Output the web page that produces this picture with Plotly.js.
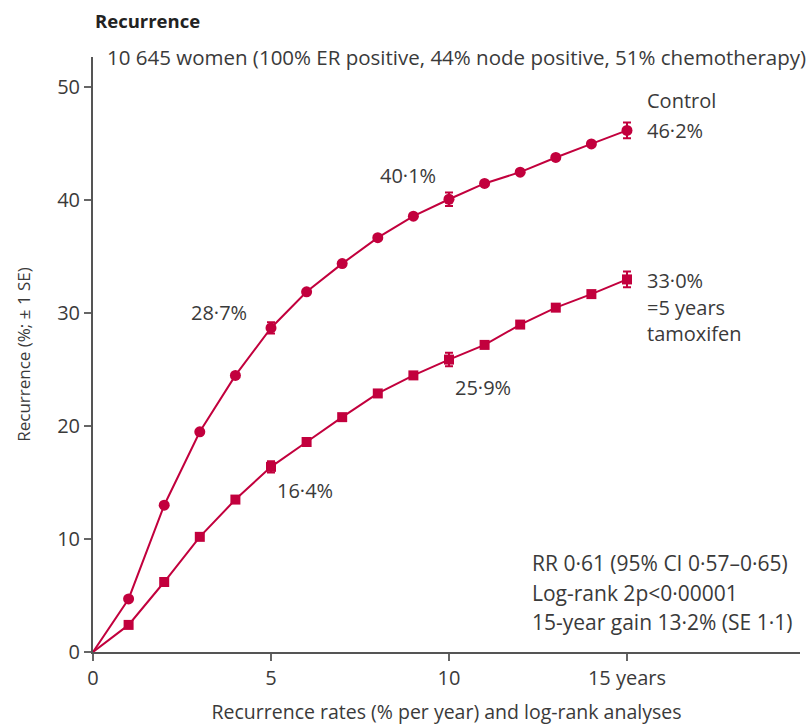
<!DOCTYPE html>
<html><head><meta charset="utf-8">
<script src="https://cdn.plot.ly/plotly-3.0.1.min.js"></script>
<style>body{margin:0;background:#fff}</style>
</head><body>
<div id="chart" style="width:811px;height:725px"></div>
<script>
const years = [0,1,2,3,4,5,6,7,8,9,10,11,12,13,14,15];
const controlValues = [0,4.7,13.0,19.5,24.5,28.7,31.9,34.4,36.7,38.6,40.1,41.5,42.5,43.8,45.0,46.2];
const controlSE = [0,0,0,0,0,0.5,0,0,0,0,0.6,0,0,0,0,0.7];
const tamoxifenValues = [0,2.4,6.2,10.2,13.5,16.4,18.6,20.8,22.9,24.5,25.9,27.2,29.0,30.5,31.7,33.0];
const tamoxifenSE = [0,0,0,0,0,0.5,0,0,0,0,0.6,0,0,0,0,0.7];
const xTickVals = [0,5,10,15];
const xTickText = ['0','5','10','15 years'];
const yTickVals = [0,10,20,30,40,50];

const red = '#c2003d';
const txt = '#3a3a3a';
const font = '"Open Sans", Lato, sans-serif';
const fs = 20;

const markerIdx = years.map((_, i) => i).filter(i => i > 0);

const traces = [
  {x: years, y: controlValues, mode: 'lines', line: {color: red, width: 2}, hoverinfo: 'skip', showlegend: false},
  {x: markerIdx.map(i => years[i]), y: markerIdx.map(i => controlValues[i]), mode: 'markers',
   marker: {symbol: 'circle', size: 11, color: red},
   error_y: {type: 'data', array: markerIdx.map(i => controlSE[i]), visible: true, color: red, thickness: 2, width: 4},
   showlegend: false},
  {x: years, y: tamoxifenValues, mode: 'lines', line: {color: red, width: 2}, hoverinfo: 'skip', showlegend: false},
  {x: markerIdx.map(i => years[i]), y: markerIdx.map(i => tamoxifenValues[i]), mode: 'markers',
   marker: {symbol: 'square', size: 10, color: red},
   error_y: {type: 'data', array: markerIdx.map(i => tamoxifenSE[i]), visible: true, color: red, thickness: 2, width: 4},
   showlegend: false}
];

function ann(x, y, text, xanchor, size) {
  return {x: x, y: y, xref: 'x', yref: 'y', text: text, showarrow: false,
          xanchor: xanchor || 'left', yanchor: 'middle', font: {family: font, size: size || fs, color: txt}};
}

const layout = {
  width: 811, height: 725,
  margin: {l: 93, r: 11, t: 57, b: 73},
  paper_bgcolor: '#fff', plot_bgcolor: '#fff',
  font: {family: font, color: txt, size: fs},
  xaxis: {range: [0, 19.86], tickvals: xTickVals, ticktext: xTickText, ticks: 'outside', ticklen: 7,
          tickwidth: 2, tickcolor: '#666', showline: true, linecolor: '#555', linewidth: 2,
          showgrid: false, zeroline: false, tickfont: {family: font, size: fs, color: txt},
          title: {text: 'Recurrence rates (% per year) and log-rank analyses', font: {family: font, size: 19.5, color: txt}, standoff: 16}},
  yaxis: {range: [0, 52.7], tickvals: yTickVals, ticks: 'outside', ticklen: 7, tickwidth: 2, tickcolor: '#666',
          showline: true, linecolor: '#555', linewidth: 2, showgrid: false, zeroline: false,
          tickfont: {family: font, size: fs, color: txt},
          title: {text: 'Recurrence (%; ± 1 SE)', font: {family: font, size: 17, color: txt}, standoff: 22}},
  annotations: [
    {xref: 'paper', yref: 'paper', x: 0, y: 1, yshift: 37, xshift: 0, text: '<b>Recurrence</b>', showarrow: false,
     xanchor: 'left', yanchor: 'middle', font: {family: font, size: 18.5, color: '#222'}},
    {xref: 'paper', yref: 'paper', x: 0, y: 1, xshift: 12, yshift: 0, text: '10 645 women (100% ER positive, 44% node positive, 51% chemotherapy)', showarrow: false,
     xanchor: 'left', yanchor: 'middle', font: {family: font, size: 20.5, color: txt}},
    ann(15.5, 48.85, 'Control'),
    ann(15.5, 46.2, '46·2%'),
    ann(15.5, 32.9, '33·0%'),
    ann(15.5, 30.5, '=5 years'),
    ann(15.5, 28.2, 'tamoxifen'),
    ann(3.54, 30.1, '28·7%', 'center'),
    ann(8.85, 42.2, '40·1%', 'center'),
    ann(5.96, 14.3, '16·4%', 'center'),
    ann(10.96, 23.45, '25·9%', 'center'),
    ann(12.28, 7.9, 'RR 0·61 (95% CI 0·57–0·65)', 'left', 21),
    ann(12.28, 5.2, 'Log-rank 2p<0·00001', 'left', 21),
    ann(12.28, 2.65, '15-year gain 13·2% (SE 1·1)', 'left', 21)
  ]
};

Plotly.newPlot('chart', traces, layout, {displayModeBar: false, staticPlot: true});
</script>
</body></html>
